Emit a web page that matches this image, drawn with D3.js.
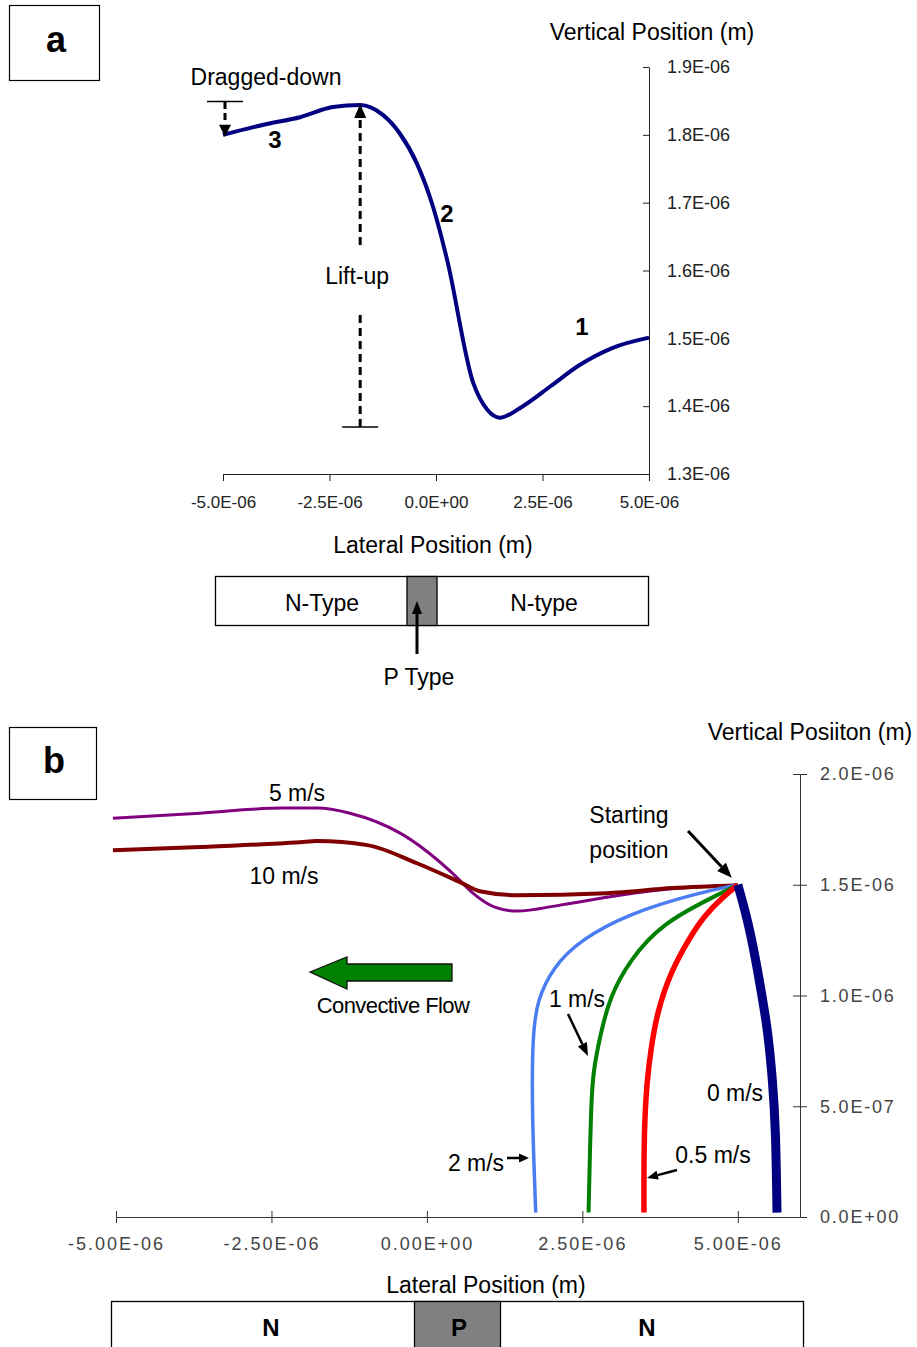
<!DOCTYPE html>
<html>
<head>
<meta charset="utf-8">
<script src="https://cdn.jsdelivr.net/npm/d3@7"></script>
<style>
  body { margin: 0; background: #fff; }
  svg { display: block; font-family: "Liberation Sans", Arial, sans-serif; }
</style>
</head>
<body>
<div id="chart"></div>
<script>
// ---- data (positions in units of 1e-6 m) ----

// panel a : single trajectory, 0 m/s case
var aLateral  = [-5.0, -3.97, -3.19, -2.42, -1.78, -1.24, -0.85, -0.45, -0.07, 0.26, 0.87, 1.20, 1.50, 2.04, 2.68, 3.38, 4.15, 5.0];
var aVertical = [1.800, 1.816, 1.826, 1.841, 1.844, 1.829, 1.802, 1.758, 1.694, 1.616, 1.435, 1.395, 1.383, 1.400, 1.429, 1.461, 1.486, 1.501];
var aXTicks = [-5, -2.5, 0, 2.5, 5];
var aXTickLabels = ["-5.0E-06", "-2.5E-06", "0.0E+00", "2.5E-06", "5.0E-06"];
var aYTicks = [1.3, 1.4, 1.5, 1.6, 1.7, 1.8, 1.9];
var aYTickLabels = ["1.3E-06", "1.4E-06", "1.5E-06", "1.6E-06", "1.7E-06", "1.8E-06", "1.9E-06"];

// panel b : trajectories for different flow velocities
var v5Lateral   = [-5.05, -3.65, -2.32, -1.77, -1.24, -0.43, 0.48, 0.74, 1.09, 1.45, 2.14, 3.10, 4.07, 5.0];
var v5Vertical  = [1.800, 1.823, 1.846, 1.846, 1.823, 1.733, 1.534, 1.462, 1.399, 1.381, 1.408, 1.453, 1.485, 1.498];
var v10Lateral  = [-5.05, -3.65, -2.04, -1.77, -0.96, -0.16, 0.53, 0.85, 1.45, 2.89, 3.95, 5.0];
var v10Vertical = [1.656, 1.670, 1.692, 1.697, 1.679, 1.597, 1.512, 1.471, 1.453, 1.462, 1.485, 1.498];
var v2Lateral   = [5.0, 4.34, 3.26, 2.46, 2.03, 1.77, 1.70, 1.69, 1.72, 1.75];
var v2Vertical  = [1.500, 1.462, 1.372, 1.250, 1.128, 0.979, 0.812, 0.528, 0.244, 0.02];
var v1Lateral   = [5.0, 4.60, 3.79, 3.26, 2.94, 2.78, 2.68, 2.64, 2.60];
var v1Vertical  = [1.500, 1.444, 1.327, 1.160, 0.993, 0.812, 0.663, 0.528, 0.02];
var v05Lateral  = [5.0, 4.76, 4.47, 4.23, 3.91, 3.70, 3.60, 3.54, 3.49, 3.49];
var v05Vertical = [1.500, 1.444, 1.363, 1.264, 1.101, 0.921, 0.754, 0.618, 0.393, 0.02];
var v0Lateral   = [5.0, 5.16, 5.29, 5.40, 5.48, 5.56, 5.61, 5.63];
var v0Vertical  = [1.500, 1.340, 1.160, 0.979, 0.844, 0.618, 0.393, 0.02];

var bXTicks = [-5, -2.5, 0, 2.5, 5];
var bXTickLabels = ["-5.00E-06", "-2.50E-06", "0.00E+00", "2.50E-06", "5.00E-06"];
var bYTicks = [0, 0.5, 1.0, 1.5, 2.0];
var bYTickLabels = ["0.0E+00", "5.0E-07", "1.0E-06", "1.5E-06", "2.0E-06"];

var svgWidth = 917;
var svgHeight = 1347;

var svg = d3.select("#chart")
    .append("svg")
    .attr("width", svgWidth)
    .attr("height", svgHeight);

// small helper: straight arrow with filled head at (x2,y2)
function arrow(g, x1, y1, x2, y2, headLen, headW, width) {
  var ang = Math.atan2(y2 - y1, x2 - x1);
  var bx = x2 - headLen * Math.cos(ang), by = y2 - headLen * Math.sin(ang);
  g.append("line")
    .attr("x1", x1).attr("y1", y1).attr("x2", bx).attr("y2", by)
    .attr("stroke", "#000").attr("stroke-width", width);
  var px = -Math.sin(ang) * headW / 2, py = Math.cos(ang) * headW / 2;
  g.append("path")
    .attr("d", `M${x2},${y2}L${bx + px},${by + py}L${bx - px},${by - py}Z`)
    .attr("fill", "#000");
}

function label(g, x, y, txt, size, weight) {
  return g.append("text")
    .attr("x", x).attr("y", y)
    .attr("text-anchor", "middle")
    .attr("font-size", size)
    .attr("font-weight", weight || "normal")
    .attr("fill", "#000")
    .text(txt);
}

// =================== panel a ===================
var ga = svg.append("g");

ga.append("rect").attr("x", 9.5).attr("y", 5.5).attr("width", 90).attr("height", 75)
  .attr("fill", "none").attr("stroke", "#000").attr("stroke-width", 1.2);
label(ga, 56, 52, "a", 36, "bold");

var aX = d3.scaleLinear().domain([-5, 5]).range([223, 649]);
var aY = d3.scaleLinear().domain([1.3, 1.9]).range([474, 67]);

var aXAxis = d3.axisBottom(aX)
  .tickValues(aXTicks)
  .tickFormat(function(d, i) { return aXTickLabels[i]; })
  .tickSizeInner(7).tickSizeOuter(0).tickPadding(15);
ga.append("g")
  .attr("transform", `translate(0, ${aY(1.3)})`)
  .call(aXAxis)
  .attr("font-size", 17).attr("font-family", null).attr("color", "#222");

var aYAxis = d3.axisRight(aY)
  .tickValues(aYTicks)
  .tickFormat(function(d, i) { return aYTickLabels[i]; })
  .tickSizeInner(-6).tickSizeOuter(0).tickPadding(18);
ga.append("g")
  .attr("transform", `translate(${aX(5)}, 0)`)
  .call(aYAxis)
  .attr("font-size", 18).attr("font-family", null).attr("color", "#222")
  .call(function(g) { g.selectAll(".tick text").attr("text-anchor", "start"); });

// trajectory
var aPoints = aLateral.map(function(d, i) { return [d, aVertical[i]]; });
var aLine = d3.line()
  .x(function(d) { return aX(d[0]); })
  .y(function(d) { return aY(d[1]); })
  .curve(d3.curveMonotoneX);
ga.append("path")
  .datum(aPoints)
  .attr("d", aLine)
  .attr("fill", "none")
  .attr("stroke", "#000080")
  .attr("stroke-width", 4);

// lift-up annotation
var liftX = aX(-1.78);
ga.append("line").attr("x1", liftX).attr("x2", liftX).attr("y1", 427).attr("y2", 313)
  .attr("stroke", "#000").attr("stroke-width", 3).attr("stroke-dasharray", "8,5");
ga.append("line").attr("x1", liftX).attr("x2", liftX).attr("y1", 245).attr("y2", 118)
  .attr("stroke", "#000").attr("stroke-width", 3).attr("stroke-dasharray", "8,5");
ga.append("path").attr("d", `M${liftX},${aY(1.844) - 1}L${liftX - 6},${aY(1.844) + 13}L${liftX + 6},${aY(1.844) + 13}Z`)
  .attr("fill", "#000");
ga.append("line").attr("x1", liftX - 18).attr("x2", liftX + 18).attr("y1", 427).attr("y2", 427)
  .attr("stroke", "#000").attr("stroke-width", 1.5);
label(ga, liftX - 3, 284, "Lift-up", 23);

// dragged-down annotation
var dragX = aX(-5) + 2;
ga.append("line").attr("x1", dragX - 18).attr("x2", dragX + 18).attr("y1", 101.5).attr("y2", 101.5)
  .attr("stroke", "#000").attr("stroke-width", 1.5);
ga.append("line").attr("x1", dragX).attr("x2", dragX).attr("y1", 102).attr("y2", 124)
  .attr("stroke", "#000").attr("stroke-width", 3).attr("stroke-dasharray", "7,4");
ga.append("path").attr("d", `M${dragX},${aY(1.8) + 2}L${dragX - 6},${aY(1.8) - 10}L${dragX + 6},${aY(1.8) - 10}Z`)
  .attr("fill", "#000");
label(ga, 266, 85, "Dragged-down", 23);

label(ga, 275, 148, "3", 24, "bold");
label(ga, 447, 222, "2", 24, "bold");
label(ga, 582, 335, "1", 24, "bold");

label(ga, 652, 40, "Vertical Position (m)", 23);
label(ga, 433, 553, "Lateral Position (m)", 23);

// device strip
ga.append("rect").attr("x", 215.5).attr("y", 576.5).attr("width", 433).attr("height", 49)
  .attr("fill", "#fff").attr("stroke", "#000").attr("stroke-width", 1.3);
ga.append("rect").attr("x", 407).attr("y", 576.5).attr("width", 30).attr("height", 49)
  .attr("fill", "#808080").attr("stroke", "#000").attr("stroke-width", 1.3);
label(ga, 322, 611, "N-Type", 23);
label(ga, 544, 611, "N-type", 23);
arrow(ga, 417, 654, 417, 601, 13, 10, 3);
label(ga, 419, 685, "P Type", 23);

// =================== panel b ===================
var gb = svg.append("g");

gb.append("rect").attr("x", 9.5).attr("y", 727.5).attr("width", 87).attr("height", 72)
  .attr("fill", "none").attr("stroke", "#000").attr("stroke-width", 1.2);
label(gb, 54, 773, "b", 36, "bold");

var bX = d3.scaleLinear().domain([-5, 6]).range([116, 800]);
var bY = d3.scaleLinear().domain([0, 2]).range([1217, 774]);

var bXAxis = d3.axisBottom(bX)
  .tickValues(bXTicks)
  .tickFormat(function(d, i) { return bXTickLabels[i]; })
  .tickSizeInner(6).tickSizeOuter(0).tickPadding(14);
gb.append("g")
  .attr("transform", `translate(0, ${bY(0)})`)
  .call(bXAxis)
  .attr("font-size", 18).attr("font-family", null).attr("color", "#333")
  .call(function(g) {
    g.selectAll(".tick line").attr("y1", -6);
    g.selectAll(".tick text").attr("letter-spacing", 2).attr("fill", "#444");
  });

var bYAxis = d3.axisRight(bY)
  .tickValues(bYTicks)
  .tickFormat(function(d, i) { return bYTickLabels[i]; })
  .tickSizeInner(7).tickSizeOuter(0).tickPadding(13);
gb.append("g")
  .attr("transform", `translate(${bX(6)}, 0)`)
  .call(bYAxis)
  .attr("font-size", 18).attr("font-family", null).attr("color", "#333")
  .call(function(g) {
    g.selectAll(".tick line").attr("x1", -7);
    g.selectAll(".tick text").attr("letter-spacing", 1.8).attr("fill", "#444");
  });

// the horizontal runs are monotone in x; the falling ones get a b-spline
var bSeries = [
  { name: "5 m/s",   lat: v5Lateral,  vert: v5Vertical,  color: "#800080", width: 3,   dir: "x" },
  { name: "10 m/s",  lat: v10Lateral, vert: v10Vertical, color: "#800000", width: 4,   dir: "x" },
  { name: "2 m/s",   lat: v2Lateral,  vert: v2Vertical,  color: "#4b7df2", width: 3.5, dir: "y" },
  { name: "1 m/s",   lat: v1Lateral,  vert: v1Vertical,  color: "#008000", width: 4,   dir: "y" },
  { name: "0.5 m/s", lat: v05Lateral, vert: v05Vertical, color: "#ff0000", width: 5.5, dir: "y" },
  { name: "0 m/s",   lat: v0Lateral,  vert: v0Vertical,  color: "#000080", width: 9,   dir: "y" }
];

function bPath(s) {
  var pts = s.lat.map(function(d, i) { return [d, s.vert[i]]; });
  var line = d3.line()
    .x(function(d) { return bX(d[0]); })
    .y(function(d) { return bY(d[1]); })
    .curve(s.dir === "y" ? d3.curveBasis : d3.curveMonotoneX);
  return line(pts);
}

gb.selectAll("path.traj")
  .data(bSeries)
  .enter()
  .append("path")
  .attr("class", "traj")
  .attr("d", bPath)
  .attr("fill", "none")
  .attr("stroke", function(s) { return s.color; })
  .attr("stroke-width", function(s) { return s.width; })
  .attr("stroke-linejoin", "round");

// labels on the curves
label(gb, 297, 801, "5 m/s", 23);
label(gb, 284, 884, "10 m/s", 23);
label(gb, 629, 823, "Starting", 23);
label(gb, 629, 858, "position", 23);
arrow(gb, 688, 831, bX(5) - 6, bY(1.5) - 7, 15, 12, 3);

label(gb, 577, 1007, "1 m/s", 23);
arrow(gb, 568, 1014, 588, 1056, 13, 10, 2.5);
label(gb, 476, 1171, "2 m/s", 23);
arrow(gb, 507, 1158, 529, 1158, 10, 9, 2.5);
label(gb, 735, 1101, "0 m/s", 23);
label(gb, 713, 1163, "0.5 m/s", 23);
arrow(gb, 677, 1170, 647, 1178, 11, 9, 2.5);

// convective flow block arrow
gb.append("path")
  .attr("d", "M310,972L347,957L347,964L452,964L452,981L347,981L347,989Z")
  .attr("fill", "#008000").attr("stroke", "#111").attr("stroke-width", 1.3);
label(gb, 393, 1013, "Convective Flow", 22).attr("letter-spacing", -0.6);

label(gb, 810, 740, "Vertical Posiiton (m)", 23);
label(gb, 486, 1293, "Lateral Position (m)", 23);

// device strip
gb.append("rect").attr("x", 111.5).attr("y", 1301.5).attr("width", 692).attr("height", 60)
  .attr("fill", "#fff").attr("stroke", "#000").attr("stroke-width", 1.3);
gb.append("rect").attr("x", 414.5).attr("y", 1301.5).attr("width", 86).attr("height", 60)
  .attr("fill", "#808080").attr("stroke", "#000").attr("stroke-width", 1.3);
label(gb, 271, 1336, "N", 24, "bold");
label(gb, 459, 1336, "P", 24, "bold");
label(gb, 647, 1336, "N", 24, "bold");
</script>
</body>
</html>
